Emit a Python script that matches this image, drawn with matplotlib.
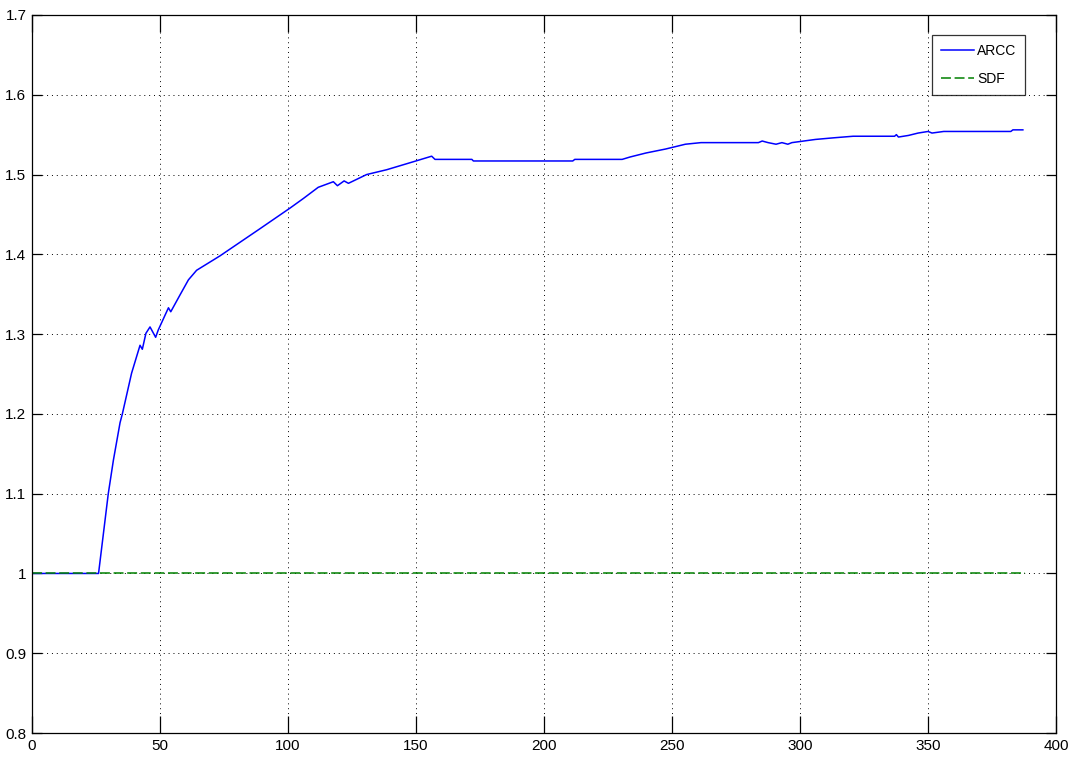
import matplotlib
matplotlib.use("Agg")
import matplotlib.pyplot as plt
from matplotlib import font_manager

# ARCC ratio sampled along the run
arcc_x = [0, 26, 29.8, 31.8, 34.4, 35.3, 38.9, 42.2, 43.1, 44.5, 46.1, 48.3, 49.3,
          53.3, 54.2, 57.8, 61.1, 64.3, 73.4, 89, 100.8, 106, 111.8, 117.7, 119.3,
          121.9, 123.6, 130.7, 138.5, 148.9, 156.1, 157.4, 171.8, 172.4, 211.2,
          212, 230.5, 233.6, 239.8, 247.5, 255.2, 261.3, 283.7, 285.2, 287.5,
          290.6, 292.9, 295.2, 296.8, 301.4, 306, 313, 320.7, 336.9, 337.6, 338.4,
          342.3, 346.1, 350, 351.5, 356.1, 382.3, 383.1, 387]
arcc_y = [1.0, 1.0, 1.1, 1.142, 1.189, 1.2, 1.251, 1.286, 1.281, 1.301, 1.309, 1.296,
          1.305, 1.333, 1.328, 1.349, 1.368, 1.380, 1.398, 1.432, 1.458, 1.470,
          1.484, 1.491, 1.486, 1.492, 1.489, 1.500, 1.506, 1.516, 1.523, 1.519,
          1.519, 1.517, 1.517, 1.519, 1.519, 1.522, 1.527, 1.532, 1.538, 1.540,
          1.540, 1.542, 1.540, 1.538, 1.540, 1.538, 1.540, 1.542, 1.544, 1.546,
          1.548, 1.548, 1.550, 1.547, 1.549, 1.552, 1.554, 1.552, 1.554, 1.554,
          1.556, 1.556]

# SDF baseline
sdf_x = [0, 388]
sdf_y = [1.0, 1.0]

x_ticks = [0, 50, 100, 150, 200, 250, 300, 350, 400]
y_ticks = [0.8, 0.9, 1.0, 1.1, 1.2, 1.3, 1.4, 1.5, 1.6, 1.7]
y_tick_labels = ["0.8", "0.9", "1", "1.1", "1.2", "1.3", "1.4", "1.5", "1.6", "1.7"]

installed = {f.name for f in font_manager.fontManager.ttflist}
family = "Liberation Sans Narrow" if "Liberation Sans Narrow" in installed else "Liberation Sans"
plt.rcParams["font.family"] = [family, "DejaVu Sans"]

fig = plt.figure(figsize=(10.73, 7.6), dpi=100)
ax = fig.add_axes([0.0298, 0.0355, 0.9545, 0.9448])

ax.plot(arcc_x, arcc_y, color=(0, 0, 1), lw=1.1, label="ARCC")
ax.plot(sdf_x, sdf_y, color=(0, 0.5, 0), lw=1.1, ls=(0, (6.5, 2.4)), label="SDF")

ax.set_xlim(0, 400)
ax.set_ylim(0.8, 1.7)
ax.set_xticks(x_ticks)
ax.set_yticks(y_ticks)
ax.set_yticklabels(y_tick_labels)
ax.tick_params(axis="x", direction="in", length=12.5, width=0.9, labelsize=11,
               top=True, pad=4)
ax.tick_params(axis="y", direction="in", length=7.5, width=0.9, labelsize=11,
               right=True, pad=4)
ax.grid(True, color="black", ls=(0, (1, 4)), lw=0.7)
for s in ax.spines.values():
    s.set_linewidth(0.9)

leg = ax.legend(loc="upper right", bbox_to_anchor=(0.970, 0.972), fontsize=10,
                frameon=True, fancybox=False, edgecolor="black",
                handlelength=2.4, handletextpad=0.2, borderpad=0.65,
                labelspacing=1.0, borderaxespad=0)
leg.get_frame().set_linewidth(0.9)

fig.savefig("out.png", dpi=100, facecolor="white")
